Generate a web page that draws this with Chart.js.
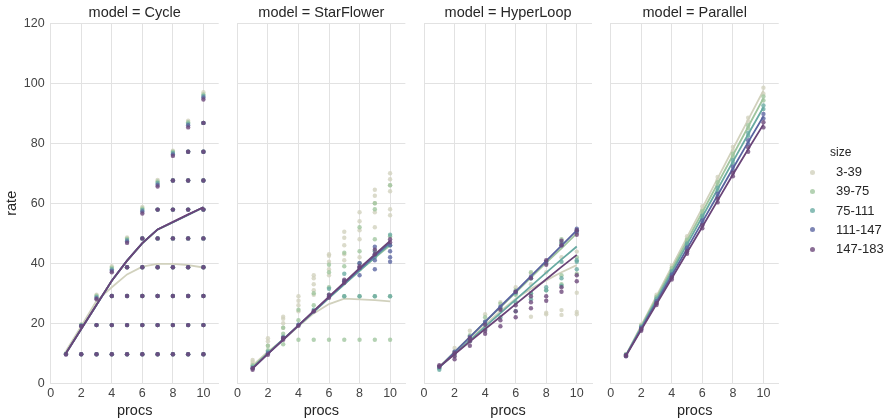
<!DOCTYPE html>
<html>
<head>
    <title>rate vs procs by model</title>
    <style>
        body {
            margin: 0;
            padding: 0;
            background-color: #fff;
            font-family: "Liberation Sans", Arial, sans-serif;
        }

        #wrap {
            position: relative;
            width: 886px;
            height: 418px;
        }

        #wrap canvas {
            position: absolute;
            left: 0;
            top: 0;
        }

        #legend-title {
            position: absolute;
            left: 830px;
            top: 145px;
            font-size: 12px;
            color: #262626;
        }

        .leg-item {
            position: absolute;
            left: 808px;
            height: 16px;
            line-height: 16px;
            font-size: 13px;
            color: #262626;
        }

        .leg-item span.dot {
            position: absolute;
            left: 1.5px;
            top: 5.5px;
            width: 5px;
            height: 5px;
            border-radius: 50%;
        }

        .leg-item span.txt {
            position: absolute;
            left: 28px;
            white-space: nowrap;
        }
    </style>
</head>
<body>
    <div id="wrap">
        <canvas id="c0" width="886" height="418"></canvas>
        <canvas id="c1" width="886" height="418"></canvas>
        <canvas id="c2" width="886" height="418"></canvas>
        <canvas id="c3" width="886" height="418"></canvas>
        <div id="legend-title">size</div>
    </div>

    <script src="https://cdn.jsdelivr.net/npm/chart.js"></script>
    <script>
        // facets and groups
        const models = ['Cycle', 'StarFlower', 'HyperLoop', 'Parallel'];
        const sizeGroups = ['3-39', '39-75', '75-111', '111-147', '147-183'];
        const procs = [1, 2, 3, 4, 5, 6, 7, 8, 9, 10];
        const xTicks = [0, 2, 4, 6, 8, 10];
        const yTicks = [0, 20, 40, 60, 80, 100, 120];

        // Cycle: the rate sits on fixed steps, the highest step at each procs value is a small cluster
        const cycleSteps = [9.7, 19.4, 29.1, 38.7, 48.3, 57.9, 67.6, 77.2, 86.8];
        const cycleTop = [
            [10.0, 19.6, 29.5, 39.0, 48.6, 58.8, 67.8, 77.5, 87.5, 97.0],
            [9.9, 19.5, 29.2, 38.5, 48.2, 58.3, 67.3, 77.2, 87.0, 96.3],
            [9.8, 19.3, 28.8, 38.0, 47.8, 57.8, 66.8, 76.8, 86.5, 95.8],
            [9.7, 19.2, 28.4, 37.5, 47.3, 57.3, 66.2, 76.3, 86.0, 95.3],
            [9.6, 19.0, 28.0, 37.0, 46.8, 56.6, 65.6, 75.8, 85.3, 94.6]
        ];
        const cycleFit = [
            [10.8, 19.0, 27.5, 32.0, 36.3, 38.9, 39.8, 39.8, 39.4, 38.6],
            [10.1, 18.2, 26.2, 34.2, 40.8, 46.6, 51.2, 53.6, 56.1, 58.6],
            [10.0, 18.1, 26.1, 34.2, 40.9, 46.7, 51.3, 53.7, 56.2, 58.7],
            [10.0, 18.1, 26.1, 34.2, 40.9, 46.7, 51.3, 53.7, 56.2, 58.7],
            [10.0, 18.1, 26.2, 34.2, 40.9, 46.7, 51.3, 53.8, 56.3, 58.7]
        ];

        const starPts = [
            [[6.5, 7.2, 7.8], [12.5, 14, 15], [18.5, 20, 21.5, 22.2], [24, 26, 27.5, 29], [29.5, 31, 33, 35, 36],
             [36, 38, 40.5, 42.5, 43], [41, 43, 46, 48.5, 50.5], [40, 42, 48, 51, 54, 57], [52, 57, 60, 62.5, 64.5], [56, 58, 64, 66, 68, 70]],
            [[6], [11, 12.5], [13, 16.5, 18.5], [14.5, 21, 24.5], [14.5, 26, 30],
             [14.5, 32, 37, 39.5], [14.5, 29, 39, 43.5], [14.5, 29, 44, 52], [14.5, 29, 48, 58, 60], [14.5, 29, 49, 66]],
            [[5.5], [10.5], [15.5], [19.5], [24.5], [29.5, 31.5], [29, 34, 36.5], [29, 38, 40], [29, 42, 44], [29, 46, 49.5]],
            [[5], [10], [15], [19.5], [24], [29], [34], [36, 38.5, 40], [38, 41, 43, 45.5], [40.5, 42, 44, 46]],
            [[4.5, 5], [9.5], [14.5, 15.2], [19.2], [24], [28.5, 29.5], [33.5, 34.5], [38.5, 39], [43, 44.5], [47, 48]]
        ];
        const starFit = [
            [6.0, 10.5, 14.5, 19.0, 23.3, 26.4, 28.2, 28.0, 27.7, 27.3],
            [5.5, 10.2, 14.7, 19.2, 23.8, 28.5, 33.0, 37.5, 41.8, 46.0],
            [5.2, 10.0, 14.6, 19.2, 23.8, 28.5, 33.0, 37.6, 42.0, 46.5],
            [5.0, 9.8, 14.6, 19.3, 24.0, 28.7, 33.3, 38.0, 42.5, 47.0],
            [5.0, 9.8, 14.5, 19.3, 24.1, 28.9, 33.6, 38.4, 43.0, 47.5]
        ];

        const hyperPts = [
            [[5.8], [10.5, 11.8], [15.5, 17.5], [20, 23], [24.5, 27], [27, 30.5, 32], [22.2, 33, 36.5], [23, 23.5, 37, 40], [22.8, 24.4, 42, 46.5], [23, 23.8, 30.2, 43.9, 50]],
            [[5.2], [10.5], [16], [20.5, 22], [25, 26.5], [29.5, 31], [30, 35, 37], [31, 40.5], [33, 36, 46.5, 48], [36.5, 42, 50.5]],
            [[4.5, 5], [9.5], [14], [18, 20], [22, 25], [24, 27, 30], [28, 30, 35], [31, 32, 40], [32.5, 35, 40.5, 47], [38, 40.5, 41, 51]],
            [[5.5], [10.5], [15.5], [20.5], [25.5], [30.5], [35.5], [40.5], [46], [50.5, 51.5]],
            [[5.5, 6], [8, 9, 10], [12.5, 14, 15], [16.5, 17.5, 19.5], [19, 21, 24.5], [22, 24, 26, 30.5], [25, 27, 29, 35], [27.5, 29, 39.5, 41], [30.5, 32, 46, 47.5], [34, 36, 49.5, 51]]
        ];
        const hyperFit = [
            [5.5, 10.0, 14.5, 19.5, 24.0, 28.2, 31.5, 34.3, 37.0, 39.4],
            [5.5, 10.5, 15.5, 20.5, 25.3, 30.2, 35.2, 40.2, 45.0, 50.0],
            [5.3, 9.8, 14.3, 18.9, 23.4, 27.9, 32.4, 36.9, 41.3, 45.6],
            [5.3, 10.4, 15.4, 20.5, 25.6, 30.6, 35.7, 40.8, 45.9, 51.0],
            [5.5, 9.7, 13.9, 18.1, 22.2, 26.4, 30.5, 34.7, 38.8, 42.8]
        ];

        const parPts = [
            [[9.3, 9.8], [19, 19.6], [28.8, 29.5], [38.5, 39.3], [48.3, 49], [58, 59], [67.8, 68.8], [77.5, 78.8], [87.3, 88.5], [96.5, 98.5]],
            [[9.2, 9.6], [18.8, 19.3], [28.3, 28.9], [37.8, 38.4], [47.2, 47.9], [56.6, 57.4], [66, 67], [75.5, 76.5], [85, 86], [94.3, 95.6]],
            [[9.2, 9.5], [18.4, 18.9], [27.6, 28.2], [36.8, 37.4], [46, 46.6], [55.1, 55.9], [64.2, 65.2], [73.4, 74.4], [82.5, 83.5], [91.4, 92.6]],
            [[9.1, 9.4], [18, 18.5], [26.8, 27.4], [35.7, 36.3], [44.5, 45.3], [53.3, 54.3], [62.2, 63.2], [71, 72.2], [79.8, 81], [88.3, 89.8]],
            [[9, 9.4], [17.5, 18.1], [26.1, 26.7], [34.6, 35.3], [43.2, 44], [51.7, 52.7], [60.3, 61.5], [69, 70.2], [77.2, 78.6], [85.3, 87]]
        ];
        const parFit = [
            [9.5, 19.3, 29.1, 38.9, 48.7, 58.5, 68.3, 78.1, 87.9, 97.6],
            [9.4, 19.0, 28.5, 38.0, 47.5, 57.0, 66.5, 76.0, 85.5, 95.0],
            [9.3, 18.6, 27.9, 37.1, 46.3, 55.5, 64.7, 73.9, 83.0, 92.0],
            [9.3, 18.2, 27.1, 36.0, 44.9, 53.8, 62.7, 71.6, 80.4, 89.0],
            [9.2, 17.8, 26.4, 35.0, 43.6, 52.2, 60.9, 69.6, 78.0, 86.3]
        ];

        const colors = ['#d1d1bd', '#9fc59e', '#68aaa2', '#5a64a0', '#6a4578'];

        // cycle points: every lower step plus the top cluster
        const cyclePts = cycleTop.map(top => procs.map((p, i) => cycleSteps.slice(0, i).concat([top[i]])));

        const allPts = [cyclePts, starPts, hyperPts, parPts];
        const allFits = [cycleFit, starFit, hyperFit, parFit];

        function alpha(hex, a) {
            const n = parseInt(hex.slice(1), 16);
            return `rgba(${n >> 16}, ${(n >> 8) & 255}, ${n & 255}, ${a})`;
        }

        const font = '"Liberation Sans", Arial, sans-serif';
        const gridColor = '#e2e2e2';
        const panelW = 168;
        const axisW = 50;

        models.forEach((model, k) => {
            const left = 50.7 + 186.67 * k;
            const datasets = [];
            sizeGroups.forEach((g, gi) => {
                const pts = [];
                allPts[k][gi].forEach((vals, i) => vals.forEach(v => pts.push({ x: procs[i], y: v })));
                datasets.push({
                    label: g,
                    data: pts,
                    backgroundColor: alpha(colors[gi], 0.78),
                    borderWidth: 0,
                    pointRadius: 2.2,
                    order: 2 * (5 - gi) + 1
                });
                datasets.push({
                    label: g + ' fit',
                    data: procs.map((p, i) => ({ x: p, y: allFits[k][gi][i] })),
                    showLine: true,
                    borderColor: colors[gi],
                    borderWidth: 1.8,
                    pointRadius: 0,
                    fill: false,
                    order: 2 * (5 - gi)
                });
            });

            new Chart(document.getElementById('c' + k), {
                type: 'scatter',
                data: { datasets: datasets },
                options: {
                    responsive: false,
                    animation: false,
                    layout: {
                        padding: { left: left - axisW, right: 886 - left - panelW, top: 0, bottom: 0 }
                    },
                    plugins: {
                        legend: { display: false },
                        tooltip: { enabled: false },
                        title: {
                            display: true,
                            fullSize: false,
                            text: 'model = ' + model,
                            color: '#262626',
                            font: { family: font, size: 14.5, weight: 'normal', lineHeight: 1.2 },
                            padding: { top: 4, bottom: 1.9 }
                        }
                    },
                    scales: {
                        x: {
                            type: 'linear',
                            min: 0,
                            max: 11,
                            afterBuildTicks: s => { s.ticks = xTicks.map(v => ({ value: v })); },
                            afterFit: s => { s.height = 34.7; },
                            grid: { color: gridColor, drawTicks: false },
                            border: { color: gridColor },
                            ticks: { color: '#444', padding: 3, font: { family: font, size: 12.5 } },
                            title: {
                                display: true,
                                text: 'procs',
                                color: '#262626',
                                padding: { top: 0, bottom: 0 },
                                font: { family: font, size: 14.5, lineHeight: 1 }
                            }
                        },
                        y: {
                            type: 'linear',
                            min: 0,
                            max: 120,
                            afterBuildTicks: s => { s.ticks = yTicks.map(v => ({ value: v })); },
                            afterFit: s => { s.width = axisW; },
                            grid: { color: gridColor, drawTicks: false },
                            border: { color: gridColor },
                            ticks: { display: k === 0, color: '#444', padding: 6, font: { family: font, size: 12.5 } },
                            title: {
                                display: k === 0,
                                text: 'rate',
                                color: '#262626',
                                padding: { top: 3, bottom: 0 },
                                font: { family: font, size: 14.5 }
                            }
                        }
                    }
                }
            });
        });

        // legend on the right
        const wrap = document.getElementById('wrap');
        sizeGroups.forEach((g, gi) => {
            const item = document.createElement('div');
            item.className = 'leg-item';
            item.style.top = (164 + 19.3 * gi) + 'px';
            item.innerHTML = `<span class="dot" style="background:${alpha(colors[gi], 0.78)}"></span><span class="txt">${g}</span>`;
            wrap.appendChild(item);
        });
    </script>
</body>
</html>
